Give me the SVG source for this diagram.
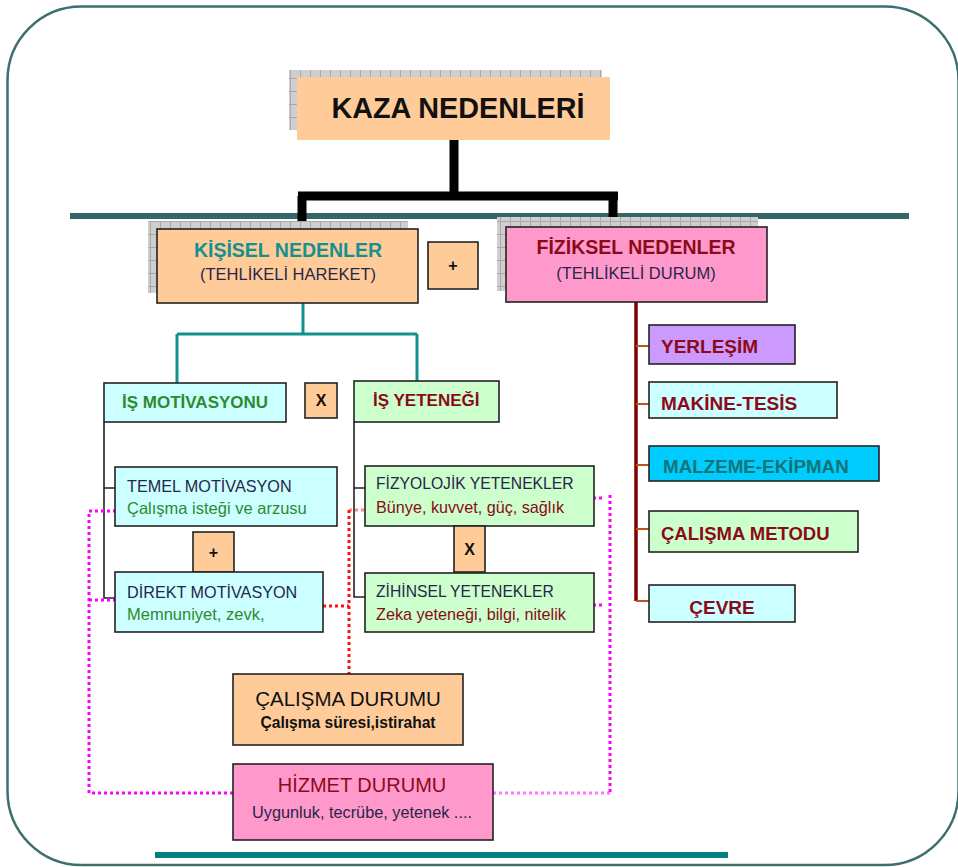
<svg xmlns="http://www.w3.org/2000/svg" width="958" height="867" viewBox="0 0 958 867">
<defs>
<pattern id="grid" x="0" y="0" width="10" height="13" patternUnits="userSpaceOnUse">
<rect width="10" height="13" fill="#cfcfcf"/>
<path d="M0.5,0 V13 M0,0.5 H10" stroke="#a9a9a9" stroke-width="1"/>
</pattern>
<style>
text{font-family:"Liberation Sans",Arial,sans-serif}
.box{stroke:#222;stroke-width:1.6}
.peach{fill:#ffcc99}
.pink{fill:#ff99cc}
.cyan{fill:#ccffff}
.mint{fill:#ccffcc}
.lilac{fill:#cc99ff}
.sky{fill:#00ccff}
.shadow{fill:url(#grid)}
.b{font-weight:bold}
.c{text-anchor:middle}
.navy{fill:#26264a}
.green{fill:#2e8a2e}
.red{fill:#8b0a1a}
.teal{fill:#139090}
.mag{fill:none;stroke:#ff00ff;stroke-width:3;stroke-dasharray:3 3}
.rdot{fill:none;stroke:#ff1010;stroke-width:3;stroke-dasharray:3 3}
</style>
</defs>
<rect width="958" height="867" fill="#ffffff"/>
<rect id="frame" x="7.5" y="6.5" width="951" height="858.5" rx="74" ry="74" fill="none" stroke="#3d6f6f" stroke-width="2.5"/>

<g id="connectors">
<rect x="70" y="213" width="839" height="6" fill="#346868"/>
<path d="M454,140 V196 M298,196 H618 M302,196 V229 M613,196 V227" fill="none" stroke="#000" stroke-width="9"/>
<path d="M303,303 V334 M177,334 H417 M177,334 V383 M417,334 V381" fill="none" stroke="#119090" stroke-width="3"/>
<path d="M104,422 V598 H116 M104,488 H116" fill="none" stroke="#222" stroke-width="1.6"/>
<path d="M354,422 V597 H365 M354,488 H365" fill="none" stroke="#222" stroke-width="1.6"/>
<path d="M636,302 V601" fill="none" stroke="#800000" stroke-width="3.5"/>
<path d="M636,346 H650 M636,404 H650 M636,465 H650 M636,529 H650 M636,601 H650" fill="none" stroke="#c0541c" stroke-width="2"/>
<path class="mag" d="M116,511 H89 V793 H233 M116,600 H89"/>
<path class="mag" d="M610,495 V793"/>
<path class="mag" d="M493,793 H610" stroke-opacity="0.55"/>
<path class="mag" d="M593,498 H602 M593,605 H602"/>
<path class="rdot" d="M323,606 H349 M349,510 V674"/>
<path class="rdot" d="M349,510 H365" stroke-opacity="0.5"/>
<rect x="155" y="852" width="573" height="6" fill="#008080"/>
</g>

<g id="kaza">
<rect class="shadow" x="289" y="70" width="313" height="60"/>
<rect class="peach" x="297" y="77" width="313" height="63"/>
<text class="b c" x="458" y="118" font-size="30" textLength="253" lengthAdjust="spacingAndGlyphs" fill="#111">KAZA NEDENLERİ</text>
</g>

<g id="kisisel">
<rect class="shadow" x="148" y="221" width="260" height="72"/>
<rect class="box peach" x="157" y="229" width="261" height="74"/>
<text class="b c teal" x="288" y="257" font-size="19.5">KİŞİSEL NEDENLER</text>
<text class="c navy" x="288" y="280" font-size="16.5">(TEHLİKELİ HAREKET)</text>
</g>

<g id="plus1">
<rect class="box peach" x="428" y="242" width="50" height="47"/>
<text class="b c" x="453" y="271" font-size="16" fill="#111">+</text>
</g>

<g id="fiziksel">
<rect class="shadow" x="497" y="217" width="261" height="74"/>
<rect class="box pink" x="506" y="227" width="261" height="75"/>
<text class="b c red" x="636" y="254" font-size="19.5">FİZİKSEL NEDENLER</text>
<text class="c navy" x="636" y="279" font-size="16.5">(TEHLİKELİ DURUM)</text>
</g>

<g id="is-motivasyonu">
<rect class="box cyan" x="104" y="383" width="182" height="39"/>
<text class="b green" x="122" y="408" font-size="17">İŞ MOTİVASYONU</text>
</g>

<g id="x1">
<rect class="box peach" x="305" y="383" width="32" height="35"/>
<text class="b c" x="321" y="406" font-size="16" fill="#111">X</text>
</g>

<g id="is-yetenegi">
<rect class="box mint" x="354" y="381" width="145" height="41"/>
<text class="b red" x="373" y="406" font-size="17">İŞ YETENEĞİ</text>
</g>

<g id="temel">
<rect class="box cyan" x="115" y="467" width="222" height="59"/>
<text class="navy" x="127" y="492" font-size="16.2">TEMEL MOTİVASYON</text>
<text class="green" x="127" y="514" font-size="16.5">Çalışma isteği ve arzusu</text>
</g>

<g id="plus2">
<rect class="box peach" x="193" y="532" width="41" height="40"/>
<text class="b c" x="213.5" y="558" font-size="16" fill="#111">+</text>
</g>

<g id="direkt">
<rect class="box cyan" x="115" y="572" width="208" height="60"/>
<text class="navy" x="127" y="598" font-size="16.2">DİREKT MOTİVASYON</text>
<text class="green" x="127" y="620" font-size="16.5">Memnuniyet, zevk,</text>
</g>

<g id="fizyolojik">
<rect class="box mint" x="365" y="466" width="229" height="60"/>
<text class="navy" x="376" y="489" font-size="15.7">FİZYOLOJİK YETENEKLER</text>
<text class="red" x="376" y="513" font-size="16.2">Bünye, kuvvet, güç, sağlık</text>
</g>

<g id="x2">
<rect class="box peach" x="454" y="526" width="31" height="46"/>
<text class="b c" x="469.5" y="555" font-size="16" fill="#111">X</text>
</g>

<g id="zihinsel">
<rect class="box mint" x="365" y="573" width="229" height="59"/>
<text class="navy" x="376" y="597" font-size="15.7">ZİHİNSEL YETENEKLER</text>
<text class="red" x="376" y="620" font-size="16.2">Zeka yeteneği, bilgi, nitelik</text>
</g>

<g id="yerlesim">
<rect class="box lilac" x="649" y="325" width="146" height="39"/>
<text class="b red" x="661" y="353" font-size="19">YERLEŞİM</text>
</g>

<g id="makine">
<rect class="box cyan" x="649" y="382" width="188" height="36"/>
<text class="b red" x="661" y="410" font-size="19">MAKİNE-TESİS</text>
</g>

<g id="malzeme">
<rect class="box sky" x="649" y="446" width="230" height="35"/>
<text class="b" x="663" y="473" font-size="18.8" fill="#127474">MALZEME-EKİPMAN</text>
</g>

<g id="metod">
<rect class="box mint" x="649" y="511" width="209" height="41"/>
<text class="b red" x="661" y="540" font-size="18.5">ÇALIŞMA METODU</text>
</g>

<g id="cevre">
<rect class="box cyan" x="649" y="585" width="146" height="37"/>
<text class="b c red" x="722" y="614" font-size="19">ÇEVRE</text>
</g>

<g id="calisma-durumu">
<rect class="box peach" x="233" y="674" width="230" height="71"/>
<text class="c" x="348" y="706" font-size="20.5" fill="#111">ÇALIŞMA DURUMU</text>
<text class="b c" x="348" y="728" font-size="15.6" fill="#111">Çalışma süresi,istirahat</text>
</g>

<g id="hizmet-durumu">
<rect class="box pink" x="233" y="764" width="260" height="76"/>
<text class="c red" x="362" y="792" font-size="20">HİZMET DURUMU</text>
<text class="c navy" x="362" y="818" font-size="16.3">Uygunluk, tecrübe, yetenek ....</text>
</g>
</svg>
